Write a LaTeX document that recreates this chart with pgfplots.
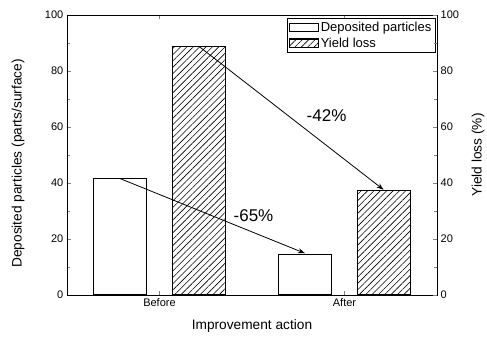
\documentclass[border=0pt]{standalone}
\usepackage{pgfplots}
\pgfplotsset{compat=1.18}
\usepackage{fontspec}
\setmainfont{Liberation Sans}
\usetikzlibrary{patterns,patterns.meta,arrows.meta}
\begin{document}
\begin{tikzpicture}
\begin{axis}[
  scale only axis, width=370pt, height=280pt,
  xmin=-0.5, xmax=1.5, ymin=0, ymax=100,
  xtick={0,1}, xticklabels={Before,After},
  ytick={0,20,40,60,80,100}, minor y tick num=1,
  ytick pos=left, tick align=inside,
  major tick length=4pt, minor tick length=3pt,
  /pgf/number format/assume math mode=true,
  tick label style={font=\fontsize{11}{13}\selectfont},
  xlabel={Improvement action},
  ylabel={Deposited particles (parts/surface)},
  label style={font=\fontsize{13.7}{15}\selectfont},
  ylabel style={at={(rel axis cs:-0.1324,0.47)}, anchor=center},
  xlabel style={at={(rel axis cs:0.5,-0.1107)}, anchor=center},
  line width=0.8pt,
  legend style={at={(0.995,0.988)}, anchor=north east, font=\fontsize{13}{15}\selectfont, draw=black, line width=0.6pt, inner sep=1.5pt, row sep=1pt},
  legend cell align=left,
  legend image code/.code={\draw[#1] (0pt,-4pt) rectangle (29pt,4.5pt);},
]
\coordinate (SW) at (rel axis cs:0,0);
\coordinate (NE) at (rel axis cs:1,1);
\addplot[ybar, bar width=53pt, bar shift=-39.5pt, draw=black, fill=white, line width=1.1pt] coordinates {(0,41.6) (1,14.6)};
\addlegendentry{Deposited particles}
\addplot[ybar, bar width=53pt, bar shift=39.5pt, draw=black, pattern={Lines[angle=45,distance=4.5pt,line width=0.6pt]}, line width=1.1pt] coordinates {(0,88.9) (1,37.3)};
\addlegendentry{Yield loss}
\draw[-{Stealth[length=7pt,width=5pt]}, line width=0.8pt] (axis cs:-0.214,41.6) -- (axis cs:0.786,14.9);
\draw[-{Stealth[length=7pt,width=5pt]}, line width=0.8pt] (axis cs:0.211,88.9) -- (axis cs:1.211,37.6);
\node[font=\fontsize{17}{19}\selectfont] at (axis cs:0.903,64.2) {-42\%};
\node[font=\fontsize{17}{19}\selectfont] at (axis cs:0.508,28.3) {-65\%};
\end{axis}
\begin{axis}[
  scale only axis, width=370pt, height=280pt,
  xmin=-0.5, xmax=1.5, ymin=0, ymax=100,
  axis x line=none, axis y line*=right,
  ytick={0,20,40,60,80,100}, minor y tick num=1,
  tick align=inside,
  major tick length=4pt, minor tick length=3pt,
  /pgf/number format/assume math mode=true,
  tick label style={font=\fontsize{11}{13}\selectfont},
  ylabel={Yield loss (\%)},
  ylabel style={font=\fontsize{13.7}{15}\selectfont, at={(rel axis cs:1.1108,0.5)}, anchor=center},
  line width=0.8pt,
]
\end{axis}
\pgfresetboundingbox
\path ([shift={(-67pt,-47pt)}]SW) rectangle ([shift={(50pt,15pt)}]NE);
\end{tikzpicture}
\end{document}
